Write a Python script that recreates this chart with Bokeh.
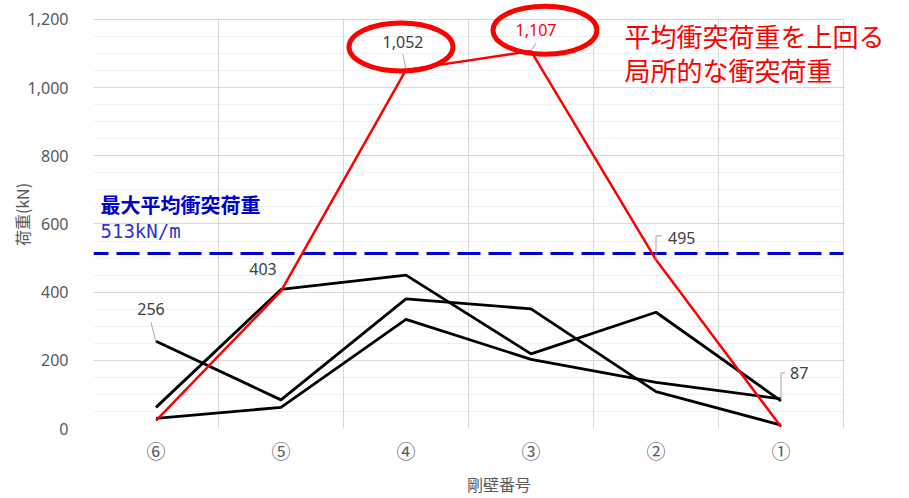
from bokeh.plotting import figure
from bokeh.models import (Range1d, FixedTicker, NumeralTickFormatter,
                          Label, Grid, BoxAnnotation)
from bokeh.embed import file_html
from bokeh.resources import INLINE

# ---- data ----
categories = ["⑥", "⑤", "④", "③", "②", "①"]
series_red = [23, 403, 1052, 1107, 495, 5]
series_a = [62, 408, 450, 219, 341, 81]
series_b = [256, 84, 380, 351, 108, 10]
series_c = [30, 62, 320, 203, 135, 87]
avg_load = 513
y_ticks = [0, 200, 400, 600, 800, 1000, 1200]

N = len(categories)
xs = [i + 0.5 for i in range(N)]

# layout: plot area 750 x 411 px; the frame is extended to the right and to the top
# so that the red note and the ellipse (which lie beyond the plot area) are not clipped
LEFT, RIGHT_PAD, TOP_GAP, BOTTOM = 93, 5, 19, 68
W, H = 909, 498
FW_CAT = 750
FW = W - LEFT - RIGHT_PAD
px_x = FW_CAT / N
X_END = FW / px_x
YMAX = 1200
FH = H - BOTTOM
px_y = (FH - TOP_GAP) / YMAX
Y_END = FH / px_y

p = figure(width=W, height=H, output_backend="svg", toolbar_location=None,
           x_range=Range1d(0, X_END), y_range=Range1d(0, Y_END),
           min_border_left=LEFT, min_border_right=RIGHT_PAD, min_border_top=0,
           min_border_bottom=BOTTOM)
p.outline_line_color = None
p.background_fill_color = "white"
p.border_fill_color = "white"

JP = "Noto Sans CJK JP"
NUM = "Noto Sans"
GREY = "#595959"

# x axis
p.xaxis.ticker = FixedTicker(ticks=xs)
p.xaxis.major_label_overrides = {x: c for x, c in zip(xs, categories)}
p.xaxis.major_label_text_font = JP
p.xaxis.major_label_text_font_size = "19px"
p.xaxis.major_label_text_color = GREY
p.xaxis.major_label_standoff = 8
p.xaxis.major_tick_out = 0
p.xaxis.major_tick_in = 0
p.xaxis.axis_label = "剛壁番号"
p.xaxis.axis_label_text_font = JP
p.xaxis.axis_label_text_font_size = "16px"
p.xaxis.axis_label_text_font_style = "normal"
p.xaxis.axis_label_text_color = GREY
p.xaxis.axis_label_standoff = 5
p.xaxis.axis_line_color = None
p.xaxis.major_tick_line_color = None
p.xaxis.minor_tick_line_color = None
p.xgrid.visible = False

# y axis
p.yaxis.ticker = FixedTicker(ticks=y_ticks,
                             minor_ticks=[t + d for t in y_ticks[:-1] for d in (50, 100, 150)])
p.yaxis.formatter = NumeralTickFormatter(format="0,0")
p.yaxis.major_label_text_font = NUM
p.yaxis.major_label_text_font_size = "16px"
p.yaxis.major_label_text_color = GREY
p.yaxis.major_label_standoff = 21
p.yaxis.major_tick_out = 0
p.yaxis.major_tick_in = 0
p.yaxis.axis_label = "荷重(kN)"
p.yaxis.axis_label_text_font = JP
p.yaxis.axis_label_text_font_size = "16px"
p.yaxis.axis_label_text_font_style = "normal"
p.yaxis.axis_label_text_color = GREY
p.yaxis.axis_label_standoff = -9
p.yaxis.axis_line_color = None
p.yaxis.major_tick_line_color = None
p.yaxis.minor_tick_line_color = None
p.ygrid.grid_line_color = "#D9D9D9"
p.ygrid.minor_grid_line_color = "#F0F0F0"

# category boundary grid lines
p.add_layout(Grid(dimension=0, ticker=FixedTicker(ticks=list(range(N + 1))),
                  grid_line_color="#D9D9D9", grid_line_width=1))
# white covers outside the plot area (hide grid lines there)
p.add_layout(BoxAnnotation(left=N + 1 / px_x, fill_color="white", fill_alpha=1.0,
                           line_color=None, level="underlay"))
p.add_layout(BoxAnnotation(bottom=YMAX + 1 / px_y, fill_color="white", fill_alpha=1.0,
                           line_color=None, level="underlay"))

# average load dashed line
p.line([0, N], [avg_load, avg_load], line_color="#0000CC",
       line_width=3, line_dash="23 8", line_dash_offset=8)

# series
for s in (series_a, series_b, series_c):
    p.line(xs, s, line_color="black", line_width=2.8)
p.line(xs, series_red, line_color="#FF0000", line_width=2.5)

# data label helper with leader lines
def leader(i, vals, pts):
    lx = [xs[i] + dx / px_x for dx, dy in pts]
    ly = [vals[i] + dy / px_y for dx, dy in pts]
    p.line(lx, ly, line_color="#A6A6A6", line_width=1)

def dlabel(i, vals, text, dx, dy, align="center", color="#404040"):
    p.add_layout(Label(x=xs[i], y=vals[i], x_offset=dx, y_offset=dy, text=text,
                       text_font=NUM, text_font_size="16px", text_color=color,
                       text_align=align, text_baseline="middle"))

# 256
leader(0, series_b, [(-5, 19), (0, -1)])
dlabel(0, series_b, "256", -5, 32)
# 403
dlabel(1, series_red, "403", -18, 22)
# 1,052
leader(2, series_red, [(-3, 16), (0, 0)])
dlabel(2, series_red, "1,052", -3, 28)
# 1,107
leader(3, series_red, [(5, 8), (0, 0)])
dlabel(3, series_red, "1,107", 5, 21, color="#FF0000")
# 495
leader(4, series_red, [(0, 0), (0, 24), (6, 24)])
dlabel(4, series_red, "495", 12, 22, align="left")
# 87
leader(5, series_c, [(0, -1), (0, 26), (4, 26)])
dlabel(5, series_c, "87", 9, 26, align="left")

# red ellipses highlighting peaks
p.ellipse(x=[xs[2] - 5 / px_x], y=[series_red[2] + 23 / px_y], width=[104], height=[48],
          width_units="screen", height_units="screen",
          fill_color=None, line_color="#FF0000", line_width=5)
p.ellipse(x=[xs[3] + 14 / px_x], y=[series_red[3] + 21 / px_y], width=[104], height=[48],
          width_units="screen", height_units="screen",
          fill_color=None, line_color="#FF0000", line_width=5)

# texts (screen units measured from frame's bottom-left)
p.add_layout(Label(x=7, y=224, x_units="screen", y_units="screen",
                   text="最大平均衝突荷重", text_font=JP, text_font_size="20px",
                   text_font_style="bold", text_color="#0000CC", text_baseline="middle"))
p.add_layout(Label(x=7, y=198, x_units="screen", y_units="screen",
                   text="513kN/m", text_font="DejaVu Sans Mono", text_font_size="19px",
                   text_color="#3333CC", text_baseline="middle"))
p.add_layout(Label(x=531, y=393, x_units="screen", y_units="screen",
                   text="平均衝突荷重を上回る", text_font=JP, text_font_size="26px",
                   text_color="#FF0000", text_baseline="middle"))
p.add_layout(Label(x=531, y=359, x_units="screen", y_units="screen",
                   text="局所的な衝突荷重", text_font=JP, text_font_size="26px",
                   text_color="#FF0000", text_baseline="middle"))

open("out.html", "w").write(file_html(p, INLINE))
